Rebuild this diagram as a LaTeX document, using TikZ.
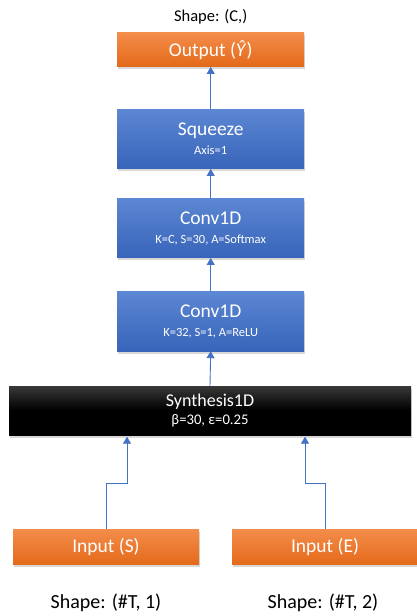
\documentclass[tikz,border=0pt]{standalone}
\usepackage{fontspec}
\setmainfont{Carlito}
\usetikzlibrary{arrows.meta,shadows}
\definecolor{orA}{HTML}{F38D4A}
\definecolor{orB}{HTML}{E4691A}
\definecolor{blA}{HTML}{5C87D3}
\definecolor{blB}{HTML}{3864BA}
\definecolor{lk}{HTML}{4472C4}
\tikzset{
  box/.style={rectangle, minimum width=187pt, text=white, align=center, inner sep=0pt,
    drop shadow={shadow xshift=0.8pt, shadow yshift=-2.5pt, opacity=0.3}},
  orangebox/.style={box, top color=orA, bottom color=orB},
  bluebox/.style={box, top color=blA, bottom color=blB},
  blackbox/.style={box, top color=black!78, bottom color=black, middle color=black},
  conn/.style={draw=lk, line width=0.9pt, -{Triangle[width=8pt,length=7pt]}},
  big/.style={font=\fontsize{19.5}{22}\selectfont},
  lbl/.style={inner sep=0pt, font=\fontsize{20}{22}\selectfont}
}
\newcommand{\sm}{\fontsize{12.5}{15}\selectfont}
\newcommand{\tl}{\fontsize{19.5}{22}\selectfont}
\begin{document}
\begin{tikzpicture}[x=1pt,y=-1pt]
\useasboundingbox[fill=white] (0,0) rectangle (416,616);

\node[lbl, font=\fontsize{16.5}{18}\selectfont] (shapeOut) at (210.7,17) {Shape: (C,)};
\node[orangebox, minimum height=34pt, big] (output) at (210.7,49.7) {Output (\textit{Ŷ})};
\node[bluebox, minimum height=59.4pt] (squeeze) at (210.7,139) {\tl Squeeze\\[7pt]\sm Axis=1};
\node[bluebox, minimum height=59.4pt] (conv2) at (210.7,228) {\tl Conv1D\\[7pt]\sm K=C, S=30, A=Softmax};
\node[bluebox, minimum height=59.4pt] (conv1) at (210.7,321.3) {\tl Conv1D\\[7pt]\sm K=32, S=1, A=ReLU};
\node[blackbox, minimum width=402pt, minimum height=49pt] (synth) at (210,410.5)
  {\fontsize{18}{20}\selectfont Synthesis1D\\[4pt]\fontsize{14.7}{19}\selectfont β=30, ε=0.25};
\node[orangebox, minimum width=186pt, minimum height=35pt, big] (inS) at (106,547) {Input (S)};
\node[orangebox, minimum width=186pt, minimum height=35pt, big] (inE) at (325,547) {Input (E)};
\node[lbl] (shapeS) at (106,603) {Shape: (\#T, 1)};
\node[lbl] (shapeE) at (323,603) {Shape: (\#T, 2)};

\coordinate (a2) at (127,483);
\coordinate (b2) at (305,483);

\draw[conn] (squeeze.north) -- (output.south);
\draw[conn] (conv2.north) -- (squeeze.south);
\draw[conn] (conv1.north) -- (conv2.south);
\draw[conn] (synth.north) -- (conv1.south);
\draw[conn, shorten >=1.5pt] (inS.north) |- (a2) -- (a2 |- synth.south);
\draw[conn, shorten >=1.5pt] (inE.north) |- (b2) -- (b2 |- synth.south);
\end{tikzpicture}
\end{document}
